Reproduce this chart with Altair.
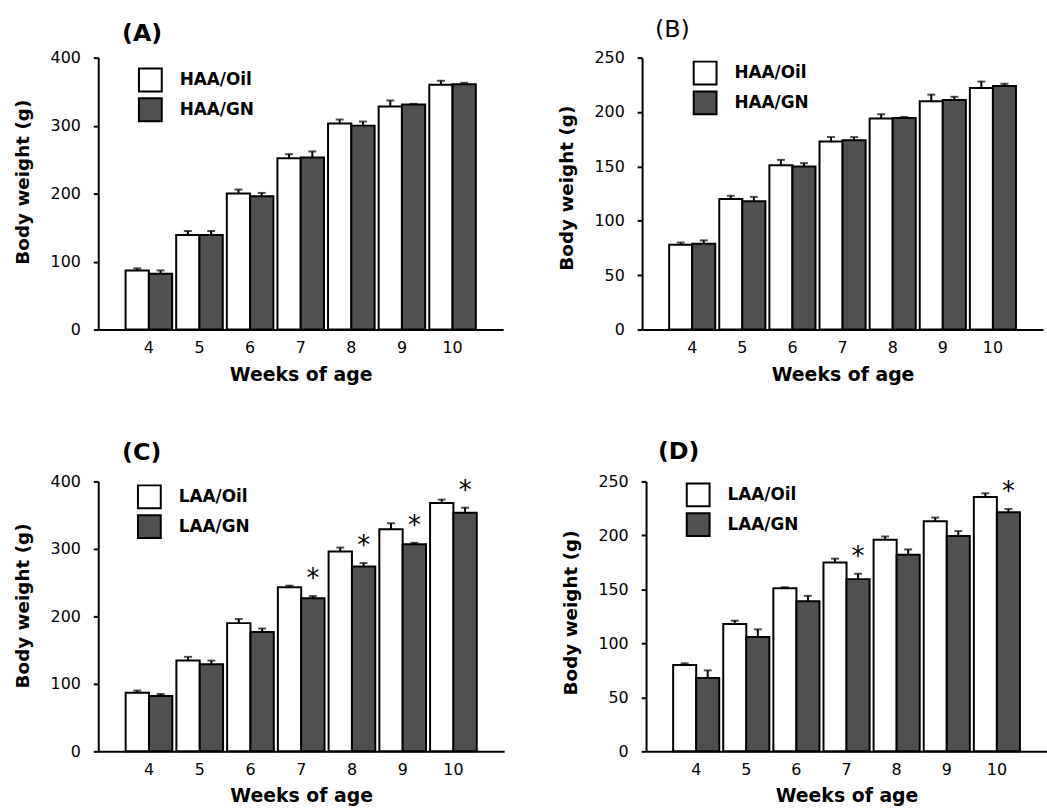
import altair as alt
import pandas as pd

weeks = [4, 5, 6, 7, 8, 9, 10]

# Panel A
A_oil = [87, 139, 200, 252, 303, 328, 360]
A_oil_err = [90, 145, 206, 258, 309, 337, 366]
A_gn = [82, 139, 196, 253, 300, 331, 361]
A_gn_err = [87, 145, 201, 262, 306, 332, 363]
A_star = [0, 0, 0, 0, 0, 0, 0]

# Panel B
B_oil = [78, 120, 151, 173, 194, 210, 222]
B_oil_err = [80, 123, 156, 177, 198, 216, 228]
B_gn = [79, 118, 150, 174, 194.5, 211, 224]
B_gn_err = [82, 122, 153, 177, 195.5, 214, 226]
B_star = [0, 0, 0, 0, 0, 0, 0]

# Panel C
C_oil = [87, 134.5, 190, 243, 296, 329, 368]
C_oil_err = [90, 140, 196, 245.5, 302, 338, 373]
C_gn = [82, 129, 177, 227, 274, 307, 353.5]
C_gn_err = [85, 134.5, 182, 230, 279, 309, 361]
C_star = [0, 0, 0, 1, 1, 1, 1]

# Panel D
D_oil = [80, 118, 151, 175, 196, 213, 235.5]
D_oil_err = [81.5, 121, 152, 178.5, 199, 216.5, 239]
D_gn = [68, 106, 139, 159.5, 182, 199.5, 221.5]
D_gn_err = [75, 113, 144, 164.5, 187, 204, 224.5]
D_star = [0, 0, 0, 1, 0, 0, 1]

FONT = "DejaVu Sans"
GN_FILL = "#505050"


def panel(tag, title_bold, prefix, oil, oil_err, gn, gn_err, star, ymax, ystep,
          minor, width, height, title_dx, title_offset, legend_x, legend_y, ytitle_shift):
    oil_lab = prefix + "/Oil"
    gn_lab = prefix + "/GN"
    rows = []
    for i, w in enumerate(weeks):
        rows.append({"week": w, "group": oil_lab, "value": oil[i], "err": oil_err[i], "star": 0})
        rows.append({"week": w, "group": gn_lab, "value": gn[i], "err": gn_err[i], "star": star[i]})
    df = pd.DataFrame(rows)
    dom = [oil_lab, gn_lab]

    if minor:
        yvals = list(range(0, ymax + 1, ystep // 2))
        lab_expr = "datum.value % " + str(ystep) + " === 0 ? datum.label : ''"
    else:
        yvals = list(range(0, ymax + 1, ystep))
        lab_expr = "datum.label"

    yaxis = alt.Axis(title="Body weight (g)", values=yvals, labelExpr=lab_expr,
                     tickSize=5, tickWidth=2, domainWidth=2, labelFontSize=16,
                     titleFontSize=18.5, titleFontWeight="bold", labelPadding=13,
                     titlePadding=18, titleY=height / 2 + ytitle_shift, grid=False)
    xaxis = alt.Axis(title="Weeks of age", labelAngle=0, ticks=False, domainWidth=2,
                     labelFontSize=16, titleFontSize=19, titleFontWeight="bold",
                     labelPadding=10, titlePadding=10, grid=False)

    base = alt.Chart(df).encode(
        x=alt.X("week:O", scale=alt.Scale(paddingInner=0.08, paddingOuter=0.54), axis=xaxis),
        xOffset=alt.XOffset("group:N", scale=alt.Scale(domain=dom, paddingInner=0, paddingOuter=0)),
    )
    yscale = alt.Scale(domain=[0, ymax], nice=False)

    bars = base.mark_bar(stroke="black", strokeWidth=2).encode(
        y=alt.Y("value:Q", scale=yscale, axis=yaxis),
        fill=alt.Fill("group:N", scale=alt.Scale(domain=dom, range=["white", GN_FILL]),
                      legend=alt.Legend(title=None, orient="none", legendX=legend_x, legendY=legend_y,
                                        symbolType="square", symbolSize=529,
                                        symbolStrokeColor="black", symbolStrokeWidth=2,
                                        labelFont=FONT, labelFontSize=17, labelFontWeight="bold",
                                        labelColor="black", labelOffset=17, rowPadding=-1,
                                        padding=0)),
    )
    err = base.mark_rule(color="black", strokeWidth=2).encode(
        y=alt.Y("value:Q", scale=yscale), y2="err:Q")
    cap = base.mark_tick(color="black", thickness=2, size=8, orient="horizontal").encode(
        y=alt.Y("err:Q", scale=yscale))
    stars = base.transform_filter("datum.star == 1").mark_text(
        text="*", fontSize=26, font=FONT, baseline="middle", dy=-17, color="black").encode(
        y=alt.Y("err:Q", scale=yscale))

    return alt.layer(bars, err, cap, stars).properties(
        width=width, height=height,
        title=alt.TitleParams(text=tag, anchor="start", frame="group", dx=title_dx,
                              fontSize=24, fontWeight="bold" if title_bold else "normal",
                              font=FONT, color="black", offset=title_offset),
    )


pA = panel("(A)", True, "HAA", A_oil, A_oil_err, A_gn, A_gn_err, A_star, 400, 100, True,
           408, 274, 24, 4, 40, 10, -12)
pB = panel("(B)", False, "HAA", B_oil, B_oil_err, B_gn, B_gn_err, B_star, 250, 50, False,
           404, 274, 13, 8, 51, 3, -6)
pC = panel("(C)", True, "LAA", C_oil, C_oil_err, C_gn, C_gn_err, C_star, 400, 100, True,
           409, 272, 24, 9, 39, 3, -11)
pD = panel("(D)", True, "LAA", D_oil, D_oil_err, D_gn, D_gn_err, D_star, 250, 50, False,
           404, 272, 12, 10, 40, 1, -4)

res = dict(color="independent", fill="independent", x="independent", y="independent",
           xOffset="independent")

row1 = alt.hconcat(pA, pB, spacing=54).resolve_scale(**res)
row2 = alt.hconcat(pC, pD, spacing=57).resolve_scale(**res)

chart = alt.vconcat(row1, row2, spacing=56).resolve_scale(**res).properties(
    padding={"left": 13, "top": 15, "right": 0, "bottom": 0},
    background="white",
).configure_view(stroke=None).configure_axis(
    labelFont=FONT, titleFont=FONT, labelColor="black", titleColor="black",
    domainColor="black", tickColor="black",
)

chart.save("out.html", embed_options={"renderer": "svg", "actions": False})
